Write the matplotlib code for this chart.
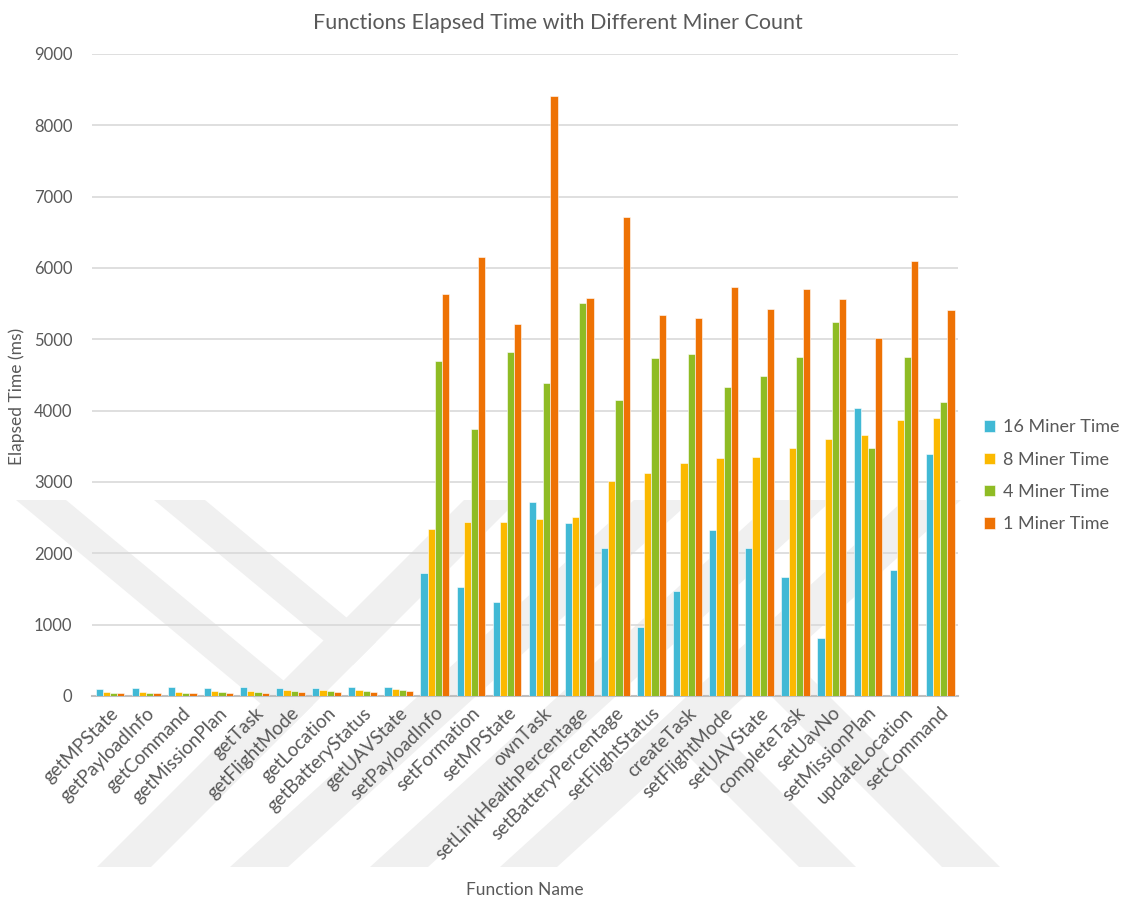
import numpy as np
import matplotlib.pyplot as plt
from matplotlib.patches import Polygon

plt.rcParams['font.family'] = ['Lato', 'DejaVu Sans']

functions = ['getMPState', 'getPayloadInfo', 'getCommand', 'getMissionPlan', 'getTask',
             'getFlightMode', 'getLocation', 'getBatteryStatus', 'getUAVState',
             'setPayloadInfo', 'setFormation', 'setMPState', 'ownTask',
             'setLinkHealthPercentage', 'setBatteryPercentage', 'setFlightStatus',
             'createTask', 'setFlightMode', 'setUAVState', 'completeTask', 'setUavNo',
             'setMissionPlan', 'updateLocation', 'setCommand']

miner16 = [100, 105, 125, 110, 125, 110, 110, 125, 130,
           1727, 1527, 1321, 2722, 2424, 2075, 966, 1475, 2327, 2070, 1664, 808,
           4042, 1771, 3388]
miner8 = [60, 60, 60, 65, 65, 80, 85, 85, 95,
          2338, 2441, 2441, 2487, 2510, 3013, 3127, 3262, 3332, 3346, 3472, 3607,
          3654, 3864, 3893]
miner4 = [45, 40, 45, 50, 55, 70, 70, 75, 85,
          4694, 3739, 4820, 4385, 5512, 4145, 4734, 4798, 4332, 4486, 4752, 5238,
          3477, 4748, 4126]
miner1 = [40, 40, 35, 40, 40, 55, 55, 60, 70,
          5632, 6158, 5220, 8405, 5586, 6718, 5340, 5299, 5734, 5421, 5706, 5561,
          5014, 6098, 5407]

series = [('16 Miner Time', miner16, '#41B9D5'),
          ('8 Miner Time', miner8, '#FBB900'),
          ('4 Miner Time', miner4, '#8FBC24'),
          ('1 Miner Time', miner1, '#EE7204')]

W, H = 1122, 900
fig = plt.figure(figsize=(W / 100, H / 100), dpi=100)

# faint background watermark (pixel outlines, top-left origin)
watermark = [
    [(97, 867), (151, 867), (518, 500), (464, 500)],
    [(154, 500), (205, 500), (376, 642), (353, 665)],
    [(16, 500), (66, 500), (313, 705), (290, 728)],
    [(230, 867), (288, 867), (692, 500), (634, 500)],
    [(370, 867), (428, 867), (832, 500), (774, 500)],
    [(500, 867), (557, 867), (961, 500), (904, 500)],
    [(942, 867), (1000, 867), (762, 629), (731, 656)],
    [(799, 867), (856, 867), (686, 697), (657, 725)],
]
for pts in watermark:
    fig.patches.append(Polygon([(px / W, 1 - py / H) for px, py in pts],
                               closed=True, transform=fig.transFigure,
                               facecolor='#F0F0F0', edgecolor='none', zorder=-5))

ax = fig.add_axes([0.082, 0.2267, 0.772, 0.7133])
ax.patch.set_alpha(0)

x = np.arange(len(functions))
w = 0.2
for i, (name, vals, col) in enumerate(series):
    ax.bar(x + (i - 1.5) * w, vals, w, color=col, label=name,
           edgecolor='white', linewidth=0.4, zorder=3)

ax.set_ylim(0, 9000)
ax.set_xlim(-0.5, len(functions) - 0.5)
ax.set_yticks(range(0, 9001, 1000))
ax.yaxis.grid(True, color='#D9D9D9', linewidth=1.2, zorder=0)
ax.tick_params(axis='both', length=0, colors='#595959')
ax.tick_params(axis='y', labelsize=12, pad=14)
ax.set_xticks(x)
ax.set_xticklabels(functions, rotation=45, ha='right', rotation_mode='anchor',
                   fontsize=13.5, color='#595959')
ax.tick_params(axis='x', pad=6)
for s in ['top', 'right', 'left']:
    ax.spines[s].set_visible(False)
ax.spines['bottom'].set_color('#BFBFBF')
ax.spines['bottom'].set_linewidth(1.5)

ax.set_ylabel('Elapsed Time (ms)', fontsize=12.5, color='#595959')
ax.yaxis.set_label_coords(-0.077, 0.467)
ax.set_xlabel('Function Name', fontsize=12.5, color='#595959', labelpad=14)
ax.set_title('Functions Elapsed Time with Different Miner Count', fontsize=15.5,
             color='#595959', pad=18, x=0.538)

leg = ax.legend(loc='center left', bbox_to_anchor=(1.022, 0.343), frameon=False,
                fontsize=13, handlelength=0.6, handleheight=0.6, borderaxespad=0,
                labelspacing=0.9, handletextpad=0.45)
for t in leg.get_texts():
    t.set_color('#595959')

fig.savefig('out.png', dpi=100)
